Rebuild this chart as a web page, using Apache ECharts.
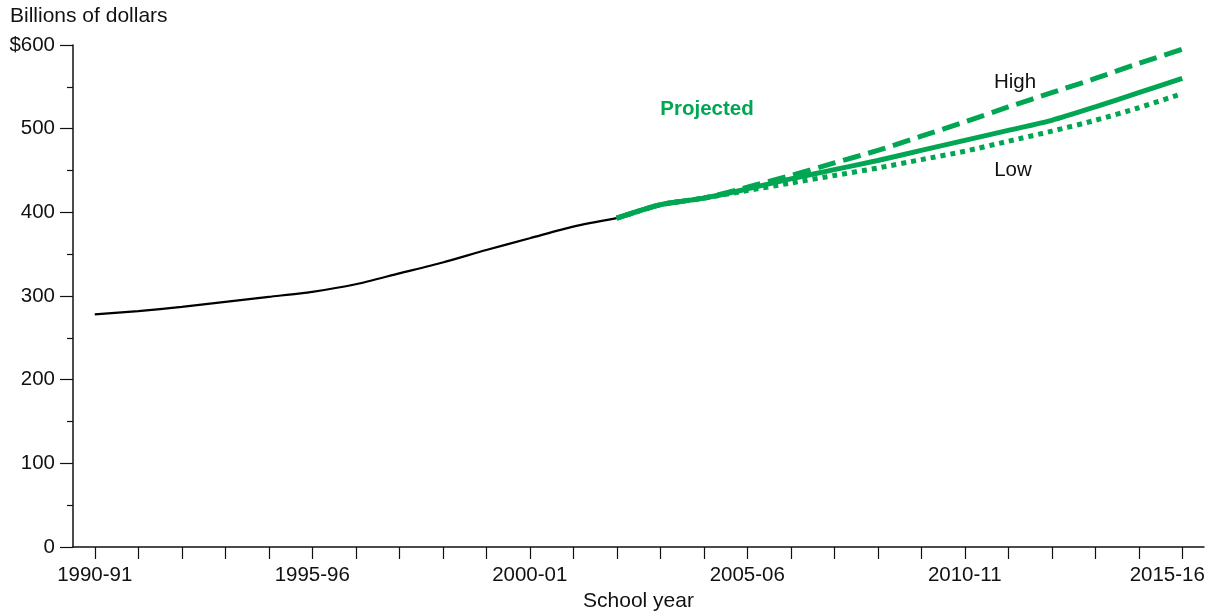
<!DOCTYPE html>
<html>
<head>
<meta charset="utf-8">
<script src="https://cdn.jsdelivr.net/npm/echarts@6/dist/echarts.min.js"></script>
<style>
  html, body { margin: 0; padding: 0; background: #fff; }
  #chart { width: 1211px; height: 614px; }
</style>
</head>
<body>
<div id="chart"></div>
<script>
// ---- Data ----
const schoolYears = [
  '1990-91','1991-92','1992-93','1993-94','1994-95','1995-96','1996-97','1997-98',
  '1998-99','1999-2000','2000-01','2001-02','2002-03','2003-04','2004-05','2005-06',
  '2006-07','2007-08','2008-09','2009-10','2010-11','2011-12','2012-13','2013-14',
  '2014-15','2015-16'
];
// Actual (billions of dollars), 1990-91 to 2002-03
const actual = [278, 282, 287, 293, 299, 305, 314, 327, 340, 355, 369, 383, 393];
// Projections, 2002-03 to 2015-16
const middleProj = [393, 409, 417, 428, 440, 451, 462, 474, 486, 498, 510, 526, 543, 560];
const highProj   = [393, 409, 417, 430, 444, 459, 474, 491, 508, 526, 543, 560, 578, 595];
const lowProj    = [393, 409, 417, 426, 435, 444, 453, 463, 473, 485, 497, 510, 525, 542];
const yTicks = [0, 100, 200, 300, 400, 500, 600];

const projStart = schoolYears.length - middleProj.length;
function padActual(arr) {
  return schoolYears.map((_, i) => (i < arr.length ? arr[i] : null));
}
function padProj(arr) {
  return schoolYears.map((_, i) => (i >= projStart ? arr[i - projStart] : null));
}

const GREEN = '#00a651';
const FONT = '"Liberation Sans", Arial, Helvetica, sans-serif';
const lastYear = schoolYears[schoolYears.length - 1];

const chart = echarts.init(document.getElementById('chart'), null, { renderer: 'canvas' });
chart.setOption({
  animation: false,
  backgroundColor: '#ffffff',
  grid: { left: 73, right: 7, top: 45, bottom: 67, containLabel: false, outerBoundsMode: 'none' },
  xAxis: {
    type: 'category',
    data: schoolYears,
    boundaryGap: true,
    name: 'School year',
    nameLocation: 'middle',
    nameGap: 43,
    nameTextStyle: { color: '#111', fontSize: 21, fontFamily: FONT },
    axisLine: { lineStyle: { color: '#111', width: 1.5 } },
    axisTick: { show: true, alignWithLabel: true, interval: 0, length: 12, lineStyle: { color: '#111', width: 1.2 } },
    axisLabel: {
      interval: 4, margin: 18, color: '#111', fontSize: 20.5, fontFamily: FONT,
      formatter: v => (v === lastYear ? '{last|' + v + '}' : v),
      rich: { last: { color: '#111', fontSize: 20.5, fontFamily: FONT, padding: [0, 30, 0, 0] } }
    },
    splitLine: { show: false }
  },
  yAxis: {
    type: 'value',
    min: yTicks[0],
    max: yTicks[yTicks.length - 1],
    interval: 100,
    axisLine: { show: true, lineStyle: { color: '#111', width: 1.5 } },
    axisTick: { show: true, length: 13, lineStyle: { color: '#111', width: 1.2 } },
    minorTick: { show: true, splitNumber: 2, length: 6, lineStyle: { color: '#111', width: 1.2 } },
    axisLabel: {
      margin: 18, color: '#111', fontSize: 20.5, fontFamily: FONT,
      formatter: v => (v === yTicks[yTicks.length - 1] ? '$' + v : String(v))
    },
    splitLine: { show: false }
  },
  graphic: [
    { type: 'text', left: 10, top: 6, style: { text: 'Billions of dollars', fill: '#111', font: '21px ' + FONT } },
    { type: 'text', x: 707, y: 109, style: { text: 'Projected', fill: GREEN, font: 'bold 20.5px ' + FONT, textAlign: 'center', textVerticalAlign: 'middle' } },
    { type: 'text', x: 1015, y: 82, style: { text: 'High', fill: '#111', font: '20.5px ' + FONT, textAlign: 'center', textVerticalAlign: 'middle' } },
    { type: 'text', x: 1013, y: 170, style: { text: 'Low', fill: '#111', font: '20.5px ' + FONT, textAlign: 'center', textVerticalAlign: 'middle' } }
  ],
  series: [
    {
      name: 'Actual', type: 'line', data: padActual(actual), smooth: 0.25,
      symbol: 'none', connectNulls: false,
      lineStyle: { color: '#000', width: 2.2 }, z: 3
    },
    {
      name: 'High', type: 'line', data: padProj(highProj), smooth: 0.25,
      symbol: 'none', lineStyle: { color: GREEN, width: 5, type: [18, 8] }, z: 4
    },
    {
      name: 'Low', type: 'line', data: padProj(lowProj), smooth: 0.25,
      symbol: 'none', lineStyle: { color: GREEN, width: 5, type: [5, 5] }, z: 4
    },
    {
      name: 'Middle', type: 'line', data: padProj(middleProj), smooth: 0.25,
      symbol: 'none', lineStyle: { color: GREEN, width: 5 }, z: 5
    }
  ]
});
</script>
</body>
</html>
